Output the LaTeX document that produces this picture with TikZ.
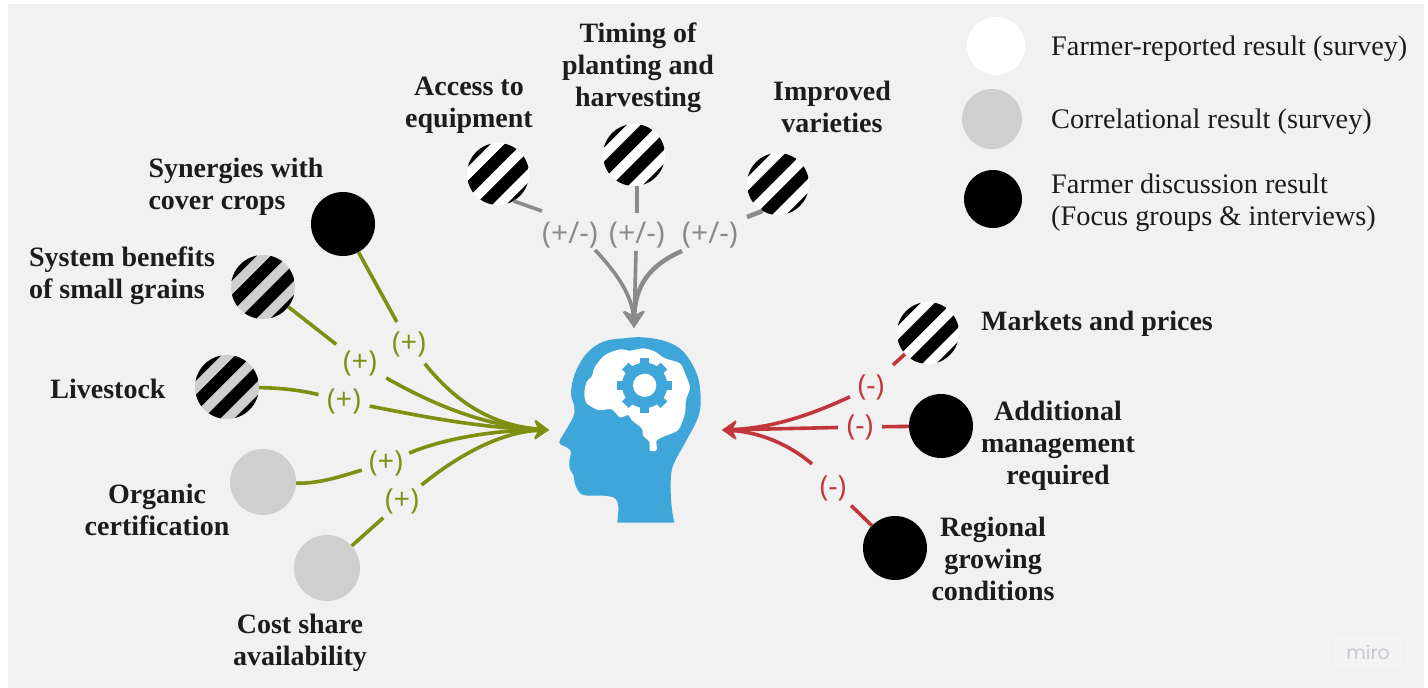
\documentclass[tikz,border=0pt]{standalone}
\usepackage{fontspec}
\setmainfont{Liberation Serif}
\newfontfamily\lblfont{Open Sans}
\newfontfamily\mirofont{Poppins}
\usetikzlibrary{arrows.meta,calc}
\definecolor{bgc}{HTML}{F1F1F1}
\definecolor{oliv}{HTML}{7F8F12}
\definecolor{redc}{HTML}{C1353B}
\definecolor{grayc}{HTML}{8A8A8A}
\definecolor{bluec}{HTML}{3FA6DA}
\definecolor{lgray}{HTML}{CFCFCF}
\definecolor{txt}{HTML}{1C1C1C}
\definecolor{miroc}{HTML}{C8C8D2}
\definecolor{mirobg}{HTML}{F4F4F5}
\tikzset{
  x=1pt,y=-1pt,
  dot/.style={circle,inner sep=0pt,minimum size=64pt},
  blackdot/.style={dot,fill=black},
  graydot/.style={dot,fill=lgray},
  whitedot/.style={dot,fill=white},
  stripes/.style={dot,fill=#1,path picture={
    \foreach \o in {-32.5,-10.5,11.5,33.5}{
      \draw[black,line width=12pt]
        ($(path picture bounding box.center)+(\o*0.7071-40,\o*0.7071+40)$) --
        ($(path picture bounding box.center)+(\o*0.7071+40,\o*0.7071-40)$);
    }}},
  factor/.style={font=\fontsize{28}{32}\selectfont\bfseries,text=txt,align=center,inner sep=0pt},
  legendtxt/.style={font=\fontsize{28.3}{32}\selectfont,text=txt,align=left,anchor=west,inner sep=0pt},
  sign/.style={font=\lblfont\fontsize{29}{32}\selectfont,circle,inner sep=0pt,minimum size=50pt},
  wsign/.style={font=\lblfont\fontsize{30}{32}\selectfont,rectangle,inner sep=0pt,minimum width=62pt,minimum height=44pt},
  link/.style={line width=3.6pt},
  conn/.style={link,-{Stealth[length=14pt,width=18pt,inset=4pt]}},
  bigconn/.style={link,-{Stealth[length=17pt,width=21pt,inset=5pt]}},
}
\begin{document}
\begin{tikzpicture}
\useasboundingbox (0,0) rectangle (1428,688);
\fill[white] (0,0) rectangle (1428,688);
\fill[bgc] (8,4) rectangle (1424,688);

% head
\begin{scope}[shift={(540,310)},x=0.3333pt,y=-0.3333pt]
\fill[bluec] plot[smooth,tension=0.6] coordinates {(232,638) (235,590) (225,565) (190,557) (130,555) (108,530) (100,495) (90,478) (88,455) (93,425) (80,412) (58,398) (75,365) (100,320) (103,290) (93,250) (105,190) (140,130) (190,95) (250,85) (310,82) (380,95) (430,125) (470,190) (482,260) (475,320) (440,390) (400,465) (392,520) (395,590) (403,638)} -- cycle;
\fill[white] plot[smooth cycle,tension=0.45] coordinates {(133,250) (140,215) (155,200) (165,170) (195,135) (240,118) (270,122) (310,115) (345,125) (375,145) (420,160) (435,190) (450,232) (438,270) (435,310) (415,360) (375,378) (350,392) (350,420) (330,422) (328,395) (310,378) (305,355) (275,330) (265,315) (240,322) (215,298) (175,300) (140,280)};
\fill[bluec] (314,226) circle[radius=68];
\foreach \a in {0,45,...,315}{
  \fill[bluec,shift={(314,226)},rotate=\a] (-14,-50) rectangle (14,-82);
}
\fill[white] (314,226) circle[radius=35];
\end{scope}

% hubs and free ends
\coordinate (hubL) at (549,430);
\coordinate (hubR) at (722,430);
\coordinate (hubT) at (634,328);
\coordinate (accb) at (542,211);
\coordinate (impb) at (747,217);
\coordinate (sa1) at (595,250);
\coordinate (st1) at (636,251);
\coordinate (si1) at (682,251);
\coordinate (m1b) at (893,365);
\coordinate (m3b) at (812,464);

% legend
\node[whitedot,minimum size=58pt] (lw) at (996,46) {};
\node[graydot,minimum size=60pt] (lg) at (992,119) {};
\node[blackdot,minimum size=58pt] (lb) at (993,199) {};
\node[legendtxt] (ltw) at (1051,49) {Farmer-reported result (survey)};
\node[legendtxt] (ltg) at (1051,122) {Correlational result (survey)};
\node[legendtxt] (ltb) at (1051,203) {Farmer discussion result\\(Focus groups \& interviews)};

% top group
\node[stripes=white,minimum size=62pt] (acc) at (498,174) {};
\node[stripes=white,minimum size=62pt] (tim) at (634,155) {};
\node[stripes=white,minimum size=62pt] (imp) at (778,184) {};
\node[factor] (tacc) at (469,105) {Access to\\equipment};
\node[factor] (ttim) at (638,68) {Timing of\\planting and\\harvesting};
\node[factor] (timp) at (832,107) {Improved\\varieties};
\node[wsign,text=grayc] (sa) at (570,235) {(+/-)};
\node[wsign,text=grayc] (st) at (637,235) {(+/-)};
\node[wsign,text=grayc] (si) at (710,235) {(+/-)};
\draw[link,grayc] (acc.-60) -- (accb);
\draw[link,grayc] (st |- tim.south) -- (st.north);
\draw[link,grayc,line width=4.5pt] (imp.-120) -- (impb);
\draw[bigconn,grayc] (sa1) .. controls (616,272) and (632,295) .. (hubT);
\draw[bigconn,grayc] (st1) -- (hubT);
\draw[bigconn,grayc,line width=4.5pt] (si1) .. controls (650,265) and (635,285) .. (hubT);

% left group
\node[blackdot] (syn) at (343,224) {};
\node[stripes=lgray] (sys) at (263,287) {};
\node[stripes=lgray] (liv) at (227,387) {};
\node[graydot,minimum size=66pt] (org) at (263,482) {};
\node[graydot,minimum size=66pt] (cos) at (327,568) {};
\node[factor,align=left] (tsyn) at (236,187) {Synergies with\\cover crops};
\node[factor,align=left] (tsys) at (122,276) {System benefits\\of small grains};
\node[factor] (tliv) at (108,389) {Livestock};
\node[factor] (torg) at (157,510) {Organic\\certification};
\node[factor] (tcos) at (300,643) {Cost share\\availability};
\node[sign,text=oliv] (p1) at (409,344) {(+)};
\node[sign,text=oliv,minimum size=60pt] (p2) at (360,363) {(+)};
\node[sign,text=oliv,minimum size=52pt] (p3) at (344,401) {(+)};
\node[sign,text=oliv] (p4) at (386,463) {(+)};
\node[sign,text=oliv] (p5) at (402,501) {(+)};
\draw[link,oliv] (syn) -- (p1);
\draw[link,oliv] (sys) -- (p2);
\draw[link,oliv] (liv) .. controls (280,388) and (300,390) .. (p3);
\draw[link,oliv] (org) .. controls (320,484) and (345,475) .. (p4);
\draw[link,oliv] (cos) -- (p5);
\draw[conn,oliv] (p1) .. controls (450,395) and (485,425) .. (hubL);
\draw[conn,oliv] (p2) .. controls (425,400) and (480,426) .. (hubL);
\draw[conn,oliv] (p3) .. controls (420,416) and (480,428) .. (hubL);
\draw[conn,oliv] (p4) .. controls (440,440) and (490,430) .. (hubL);
\draw[conn,oliv] (p5) .. controls (440,470) and (490,432) .. (hubL);

% right group
\node[stripes=white,minimum size=62pt] (mar) at (928,333) {};
\node[blackdot] (add) at (941,426) {};
\node[blackdot] (reg) at (895,548) {};
\node[factor] (tmar) at (1097,324) {Markets and prices};
\node[factor] (tadd) at (1058,446) {Additional\\management\\required};
\node[factor] (treg) at (993,559) {Regional\\growing\\conditions};
\node[sign,text=redc,minimum size=46pt] (m1) at (871,387) {(-)};
\node[sign,text=redc,minimum size=44pt] (m2) at (860,427) {\raisebox{-5pt}{(-)}};
\node[sign,text=redc] (m3) at (833,488) {(-)};
\draw[link,redc] (mar) -- (m1b);
\draw[link,redc] (add) -- (m2);
\draw[link,redc] (reg) -- (m3);
\draw[conn,redc] (m1) .. controls (815,413) and (775,428) .. (hubR);
\draw[conn,redc] (m2) -- (hubR);
\draw[conn,redc] (m3b) .. controls (790,445) and (760,432) .. (hubR);

% watermark
\node[fill=mirobg,text=miroc,font=\mirofont\fontsize{19}{20}\selectfont,minimum width=66pt,minimum height=32pt,inner sep=0pt] (miro) at (1368,652) {miro};
\end{tikzpicture}
\end{document}
